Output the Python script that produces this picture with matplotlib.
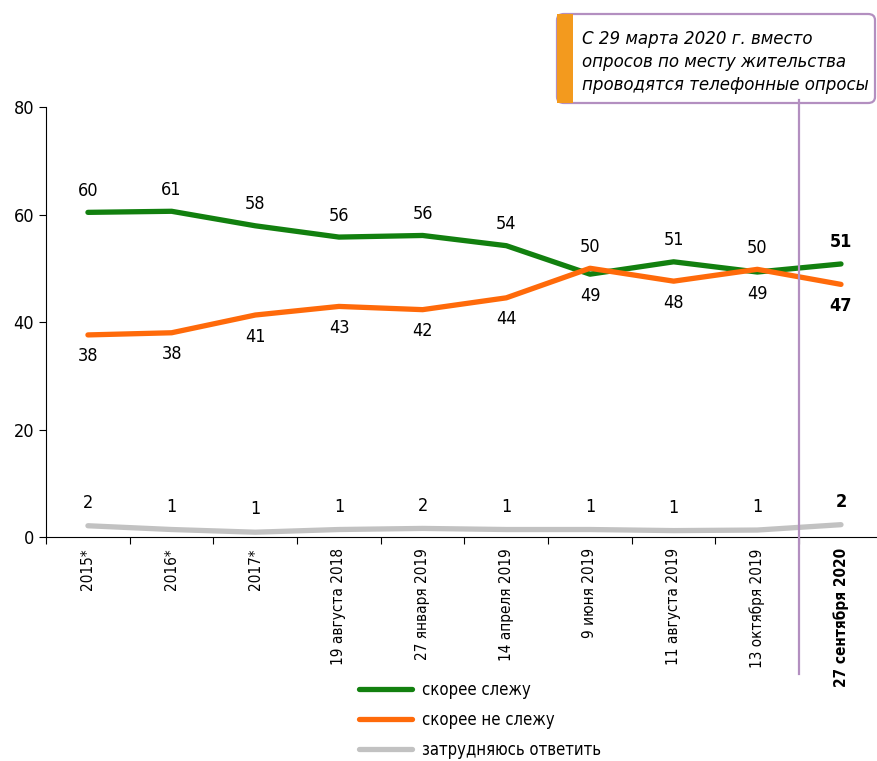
import numpy as np
import matplotlib.pyplot as plt
from matplotlib.patches import FancyBboxPatch, Rectangle
from matplotlib.lines import Line2D

plt.rcParams['font.family'] = ['DejaVu Sans']
plt.rcParams['font.stretch'] = 'condensed'

dates = ['2015*', '2016*', '2017*', '19 августа 2018', '27 января 2019',
         '14 апреля 2019', '9 июня 2019', '11 августа 2019', '13 октября 2019',
         '27 сентября 2020']
follow = [60.4, 60.6, 57.9, 55.8, 56.1, 54.2, 48.9, 51.2, 49.3, 50.8]
not_follow = [37.6, 38.0, 41.3, 42.9, 42.3, 44.5, 50.0, 47.6, 49.8, 47.0]
dunno = [2.1, 1.4, 0.9, 1.4, 1.6, 1.4, 1.4, 1.2, 1.3, 2.3]
follow_lbl = [60, 61, 58, 56, 56, 54, 49, 51, 49, 51]
not_follow_lbl = [38, 38, 41, 43, 42, 44, 50, 48, 50, 47]
dunno_lbl = [2, 1, 1, 1, 2, 1, 1, 1, 1, 2]
series_names = ['скорее слежу', 'скорее не слежу', 'затрудняюсь ответить']
colors = ['#12800f', '#ff6a0a', '#c2c2c2']
note = 'С 29 марта 2020 г. вместо\nопросов по месту жительства\nпроводятся телефонные опросы'

fig = plt.figure(figsize=(8.78, 7.61), dpi=100)
ax = fig.add_axes([0.0525, 0.2943, 0.953, 0.5651])
x = np.arange(len(dates))

for vals, c in zip([follow, not_follow, dunno], colors):
    ax.plot(x, vals, color=c, lw=3.8, solid_capstyle='round', zorder=3)

n = len(dates)
for i in range(n):
    w = 'bold' if i == n - 1 else 'normal'
    hi, lo = (follow, not_follow) if follow[i] >= not_follow[i] else (not_follow, follow)
    hl = follow_lbl if hi is follow else not_follow_lbl
    ll = not_follow_lbl if hi is follow else follow_lbl
    ax.annotate(str(hl[i]), (x[i], hi[i]), xytext=(0, 9), textcoords='offset points',
                ha='center', va='bottom', fontsize=13, weight=w)
    ax.annotate(str(ll[i]), (x[i], lo[i]), xytext=(0, -9), textcoords='offset points',
                ha='center', va='top', fontsize=13, weight=w)
    ax.annotate(str(dunno_lbl[i]), (x[i], dunno[i]), xytext=(0, 10), textcoords='offset points',
                ha='center', va='bottom', fontsize=13, weight=w)

ax.set_xlim(-0.5, n - 0.5)
ax.set_ylim(0, 80)
ax.set_yticks([0, 20, 40, 60, 80])
ax.tick_params(axis='y', labelsize=13, length=5, width=0.8)
ax.set_xticks(x)
ax.set_xticklabels(dates, rotation=90, fontsize=11)
ax.set_xticks(np.arange(-0.5, n - 0.5, 1), minor=True)
ax.tick_params(axis='x', which='major', length=0, pad=8)
ax.tick_params(axis='x', which='minor', length=5, width=0.8)
ax.get_xticklabels()[-1].set_fontweight('bold')
for s in ['top', 'right']:
    ax.spines[s].set_visible(False)
for s in ['left', 'bottom']:
    ax.spines[s].set_linewidth(0.8)

# vertical separator
fig.add_artist(Line2D([799 / 878, 799 / 878], [1 - 100 / 761, 1 - 674 / 761],
                      color='#b38fc0', lw=1.6))
# note box
box = FancyBboxPatch((557 / 878, 1 - 103 / 761), 318 / 878, 89 / 761,
                     boxstyle='round,pad=0,rounding_size=0.008',
                     transform=fig.transFigure, fc='white', ec='#b38fc0', lw=1.6)
fig.add_artist(box)
fig.add_artist(Rectangle((557 / 878, 1 - 103 / 761), 16 / 878, 89 / 761,
                         transform=fig.transFigure, fc='#f39a1e', ec='none'))
fig.text(582 / 878, 1 - 62 / 761, note, ha='left', va='center', fontsize=13.3,
         style='italic', linespacing=1.38)

# legend
leg_handles = [Line2D([0], [0], color=c, lw=3.8, solid_capstyle='round') for c in colors]
fig.legend(leg_handles, series_names, loc='upper left', bbox_to_anchor=(352 / 878, 1 - 674 / 761),
           frameon=False, fontsize=12, handlelength=3.2, handletextpad=0.6, labelspacing=0.72,
           borderaxespad=0)

fig.savefig('out.png', dpi=100)
